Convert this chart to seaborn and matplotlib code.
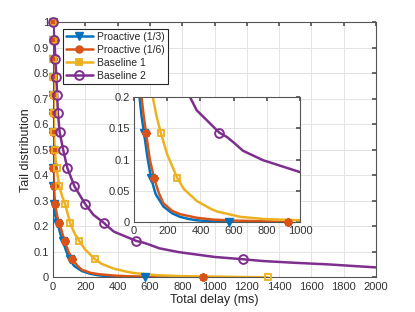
import matplotlib
matplotlib.use("Agg")
import matplotlib.pyplot as plt
import seaborn as sns
import pandas as pd
from matplotlib.lines import Line2D

# tail levels where markers sit (k/14)
levels = [1.0, 0.929, 0.857, 0.786, 0.714, 0.643, 0.571, 0.5, 0.429, 0.357, 0.286, 0.214, 0.143, 0.071, 0.0]

# marker delays (ms) per series
pro3_mark = [0, 0, 0, 0, 0, 0, 0, 0, 0, 1, 3, 25, 60, 102, 570]
pro6_mark = [0, 0, 0, 0, 0, 0, 0, 0, 1, 5, 12, 36, 72, 120, 929]
base1_mark = [0, 0, 1, 2, 3, 4, 6, 10, 21, 38, 75, 105, 161, 260, 1330]
base2_mark = [0, 8, 14, 20, 25, 30, 40, 62, 88, 132, 200, 314, 514, 1175, 2600]

# curve points (delay ms, tail)
pro3_x = [0, 0, 3, 12, 25, 33, 45, 60, 80, 102, 130, 177, 230, 277, 330, 377, 450, 520, 600]
pro3_y = [1.0, 0.35, 0.286, 0.245, 0.214, 0.2, 0.17, 0.143, 0.105, 0.071, 0.045, 0.025, 0.014, 0.0085, 0.005, 0.003, 0.0015, 0.0008, 0.0]
pro6_x = [0, 0, 1, 5, 12, 25, 36, 45, 58, 72, 95, 120, 150, 177, 230, 277, 377, 477, 600, 800, 929]
pro6_y = [1.0, 0.5, 0.429, 0.357, 0.286, 0.24, 0.214, 0.2, 0.17, 0.143, 0.1, 0.071, 0.046, 0.03, 0.018, 0.0128, 0.007, 0.004, 0.0025, 0.0012, 0.0]
base1_x = [0, 2, 4, 6, 10, 21, 38, 55, 75, 90, 105, 113, 135, 161, 200, 260, 300, 377, 457, 500, 640, 780, 1000, 1200, 1330]
base1_y = [1.0, 0.786, 0.643, 0.571, 0.5, 0.429, 0.357, 0.32, 0.286, 0.25, 0.214, 0.2, 0.17, 0.143, 0.108, 0.071, 0.053, 0.034, 0.022, 0.017, 0.0085, 0.005, 0.003, 0.0012, 0.0]
base2_x = [0, 8, 14, 20, 25, 30, 40, 62, 88, 132, 200, 250, 314, 337, 377, 457, 514, 560, 597, 657, 777, 1000, 1175, 1300, 1500, 1700, 2000]
base2_y = [1.0, 0.929, 0.857, 0.786, 0.714, 0.643, 0.571, 0.5, 0.429, 0.357, 0.286, 0.245, 0.214, 0.2, 0.179, 0.158, 0.143, 0.136, 0.128, 0.114, 0.099, 0.08, 0.071, 0.064, 0.057, 0.051, 0.039]

names = ["Proactive (1/3)", "Proactive (1/6)", "Baseline 1", "Baseline 2"]
colors = ["#0072BD", "#D95319", "#EDB120", "#7E2F8E"]
curves = [(pro3_x, pro3_y), (pro6_x, pro6_y), (base1_x, base1_y), (base2_x, base2_y)]
marks = [pro3_mark, pro6_mark, base1_mark, base2_mark]
mstyle = [
    dict(marker="v", ms=5.5, mfc="#0072BD", mew=1.0),
    dict(marker=(8, 2, 0), ms=6, mfc="#D95319", mew=1.6),
    dict(marker="s", ms=5, mfc="none", mew=1.3),
    dict(marker="o", ms=6.3, mfc="none", mew=1.4),
]

sns.set_theme(style="white")
plt.rcParams["font.family"] = ["Liberation Sans", "DejaVu Sans"]


def draw(ax, xmax, ymax):
    for (x, y), m, name, c, st in zip(curves, marks, names, colors, mstyle):
        df = pd.DataFrame({"delay": x, "tail": y})
        sns.lineplot(data=df, x="delay", y="tail", ax=ax, color=c, lw=1.8,
                     sort=False, estimator=None, legend=False)
        pts = [(d, l) for d, l in zip(m, levels) if d <= xmax and l <= ymax]
        ax.plot([p[0] for p in pts], [p[1] for p in pts], ls="none", color=c,
                mec=c, clip_on=False, zorder=5, **st)
    ax.grid(True, color="#e3e3e3", lw=0.7)
    for s in ax.spines.values():
        s.set_color("#555555")
        s.set_linewidth(0.8)
    ax.tick_params(direction="in", top=True, right=True, length=3,
                   labelsize=8, colors="#555555", labelcolor="#333333", pad=3)


fig = plt.figure(figsize=(4.15, 3.12), dpi=100)
ax = fig.add_axes([0.128, 0.111, 0.778, 0.818])
draw(ax, 2000, 1.0)
ax.set_xlim(0, 2000)
ax.set_ylim(0, 1)
ax.set_xticks(range(0, 2001, 200))
ax.set_yticks([0, 0.1, 0.2, 0.3, 0.4, 0.5, 0.6, 0.7, 0.8, 0.9, 1])
ax.set_yticklabels(["0", "0.1", "0.2", "0.3", "0.4", "0.5", "0.6", "0.7", "0.8", "0.9", "1"])
ax.set_xlabel("Total delay (ms)", fontsize=9, color="#262626", labelpad=2)
ax.set_ylabel("Tail distribution", fontsize=9, color="#262626", labelpad=1)

handles = [Line2D([0], [0], color=c, lw=1.8, mec=c, **st) for c, st in zip(colors, mstyle)]
handles[1].set_marker("o")
handles[1].set_markersize(4.5)
handles[2].set_markerfacecolor("#EDB120")
leg = ax.legend(handles, names, loc="upper left", bbox_to_anchor=(0.03, 0.975),
                fontsize=7.5, frameon=True, fancybox=False, framealpha=1,
                edgecolor="#262626", handlelength=2.6, borderpad=0.3,
                labelspacing=0.3, handletextpad=0.4, borderaxespad=0)
leg.get_frame().set_linewidth(0.8)
leg.set_zorder(10)

ins = fig.add_axes([0.323, 0.288, 0.400, 0.401])
ins.set_facecolor("white")
draw(ins, 1000, 0.2)
ins.set_xlim(0, 1000)
ins.set_ylim(0, 0.2)
ins.set_xticks(range(0, 1001, 200))
ins.set_yticks([0, 0.05, 0.1, 0.15, 0.2])
ins.set_yticklabels(["0", "0.05", "0.1", "0.15", "0.2"])
ins.set_xlabel("")
ins.set_ylabel("")

fig.savefig("out.png", dpi=100)
